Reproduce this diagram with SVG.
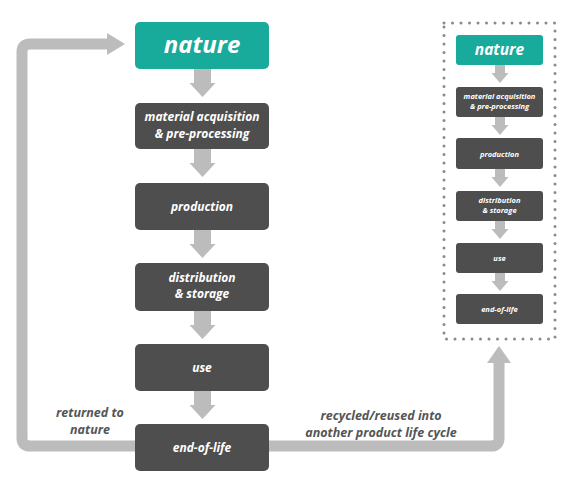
<svg xmlns="http://www.w3.org/2000/svg" xmlns:xlink="http://www.w3.org/1999/xlink" width="584" height="483" viewBox="0 0 584 483">
<style>
text{font-family:"Open Sans","Noto Sans",sans-serif;font-style:italic;font-weight:700;text-anchor:middle}
.teal{fill:#18aa9b}
.dark{fill:#4e4e4f}
.t{fill:#ffffff}
.big{font-size:24px}
.mid{font-size:12px}
.sbig{font-size:15.5px}
.small{font-size:7.5px}
.lab{fill:#555556;font-size:12.5px}
.arr{fill:#bcbcbd}
.loop{fill:none;stroke:#bcbcbd;stroke-width:11}
</style>
<defs>
<path id="a" d="M-8.5,0 H8.5 V14 H13 L0,28 L-13,14 H-8.5 Z"/>
<path id="s" d="M-5,0 H5 V8 H8.5 L0,18 L-8.5,8 H-5 Z"/>
</defs>
<g id="connectors">
<path class="loop" d="M140,446 H30 Q22,446 22,438 V52 Q22,44 30,44 H110"/>
<polygon class="arr" points="107,33 125,44 107,55"/>
<path class="loop" d="M260,446 H491 Q499,446 499,438 V360"/>
<polygon class="arr" points="487,363 499,346 511,363"/>
<g class="arr">
<use xlink:href="#a" x="202.5" y="69"/>
<use xlink:href="#a" x="202.5" y="149"/>
<use xlink:href="#a" x="202.5" y="230"/>
<use xlink:href="#a" x="202.5" y="311"/>
<use xlink:href="#a" x="202.5" y="391"/>
<use xlink:href="#s" x="500" y="65"/>
<use xlink:href="#s" x="500" y="117"/>
<use xlink:href="#s" x="500" y="169"/>
<use xlink:href="#s" x="500" y="221"/>
<use xlink:href="#s" x="500" y="273"/>
</g>
<text class="lab" x="90" y="417">returned to</text>
<text class="lab" x="90" y="434">nature</text>
<text class="lab" x="381" y="420">recycled/reused into</text>
<text class="lab" x="381" y="437">another product life cycle</text>
</g>
<g id="main-nature"><rect class="teal" x="135" y="22" width="134" height="47" rx="5"/><text class="t big" x="202" y="53">nature</text></g>
<g id="main-material"><rect class="dark" x="135" y="103" width="134" height="46" rx="5"/><text class="t mid" x="202" y="121">material acquisition</text><text class="t mid" x="202" y="137.5">&amp; pre-processing</text></g>
<g id="main-production"><rect class="dark" x="135" y="183" width="134" height="47" rx="5"/><text class="t mid" x="202" y="211">production</text></g>
<g id="main-distribution"><rect class="dark" x="135" y="263" width="134" height="48" rx="5"/><text class="t mid" x="202" y="281.5">distribution</text><text class="t mid" x="202" y="298">&amp; storage</text></g>
<g id="main-use"><rect class="dark" x="135" y="344" width="134" height="47" rx="5"/><text class="t mid" x="202" y="372">use</text></g>
<g id="main-eol"><rect class="dark" x="135" y="424" width="134" height="47" rx="5"/><text class="t mid" x="202" y="452">end-of-life</text></g>
<g id="cycle-box"><rect x="444" y="23" width="111" height="316" fill="none" stroke="#8a8a8b" stroke-width="3" stroke-linecap="round" stroke-dasharray="0 8.5"/></g>
<g id="small-nature"><rect class="teal" x="456" y="35" width="87" height="30" rx="3"/><text class="t sbig" x="499.5" y="55">nature</text></g>
<g id="small-material"><rect class="dark" x="456" y="87" width="87" height="30" rx="3"/><text class="t small" x="499.5" y="98.5">material acquisition</text><text class="t small" x="499.5" y="109">&amp; pre-processing</text></g>
<g id="small-production"><rect class="dark" x="456" y="138" width="87" height="31" rx="3"/><text class="t small" x="499.5" y="157">production</text></g>
<g id="small-distribution"><rect class="dark" x="456" y="191" width="87" height="30" rx="3"/><text class="t small" x="499.5" y="202.5">distribution</text><text class="t small" x="499.5" y="213">&amp; storage</text></g>
<g id="small-use"><rect class="dark" x="456" y="243" width="87" height="30" rx="3"/><text class="t small" x="499.5" y="261">use</text></g>
<g id="small-eol"><rect class="dark" x="456" y="294" width="87" height="30" rx="3"/><text class="t small" x="499.5" y="312">end-of-life</text></g>
</svg>
